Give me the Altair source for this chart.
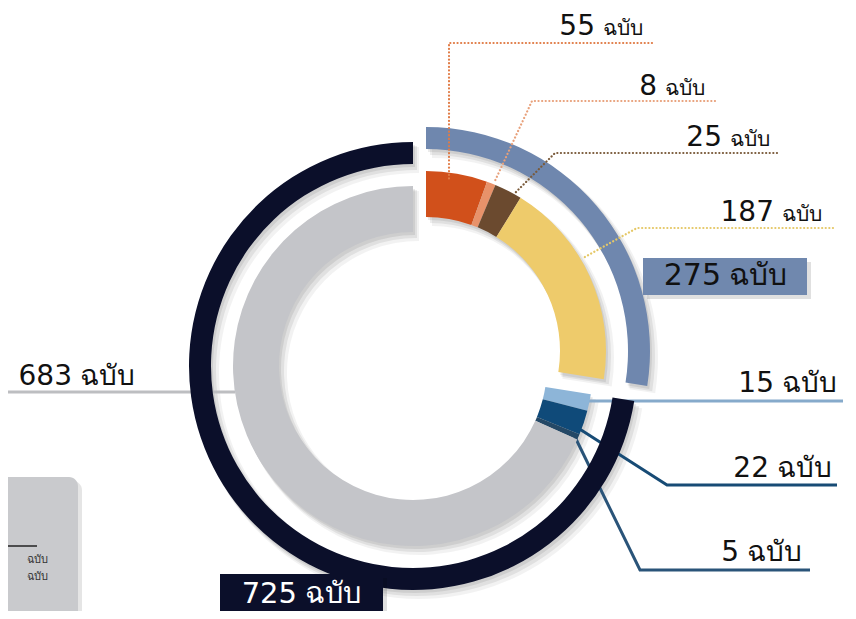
import math
import altair as alt
import pandas as pd

# ---------------- data ----------------
outer_names = ["กลุ่ม 275", "กลุ่ม 725"]
outer_values = [275, 725]
inner_names = ["a55", "b8", "c25", "d187", "e15", "f22", "g5", "h683"]
inner_values = [55, 8, 25, 187, 15, 22, 5, 683]
label_numbers = ["55", "8", "25", "187", "683", "15", "22", "5", "275", "725"]
unit_text = "ฉบับ"

# ---------------- styles ----------------
outer_colors = ["#6F87AE", "#0B0F2A"]
inner_colors = ["#D1501B", "#E8926A", "#6B4A2F", "#EECB6B",
                "#8DB5D8", "#0F4A79", "#244866", "#C4C5C9"]
exploded_outer = [True, False]
exploded_inner = [True, True, True, True, False, False, False, False]

W, H = 840, 603
OFF = 8  # page margin
CX, CY = 413 - OFF, 366 - OFF          # main center
EX, EY = 426 - OFF, 351 - OFF          # exploded group center
R_OUT = (202, 224)
R_IN = (134, 180)

TOTAL = sum(outer_values)
ts = alt.Scale(domain=[0, TOTAL], range=[0, 2 * math.pi])
xs = alt.Scale(domain=[0, W], range=[0, W], nice=False, zero=False)
ys = alt.Scale(domain=[0, H], range=[0, H], nice=False, zero=False)


def ring_df(names, values, colors, exploded):
    df = pd.DataFrame({"name": names, "value": values, "col": colors, "exp": exploded})
    df["end"] = df["value"].cumsum()
    df["start"] = df["end"] - df["value"]
    return df


outer_df = ring_df(outer_names, outer_values, outer_colors, exploded_outer)
inner_df = ring_df(inner_names, inner_values, inner_colors, exploded_inner)


def arc_layer(df, cx, cy, radii, color=None, opacity=1.0, dr=0):
    enc = dict(
        theta=alt.Theta("start:Q", scale=ts, stack=None),
        theta2="end:Q",
        x=alt.value(cx),
        y=alt.value(cy),
    )
    enc["color"] = alt.value(color) if color else alt.Color("col:N", scale=None)
    return alt.Chart(df).mark_arc(
        innerRadius=radii[0] - dr, outerRadius=radii[1] + dr, opacity=opacity
    ).encode(**enc)


layers = []

# soft shadows
for df, radii in [(outer_df, R_OUT), (inner_df, R_IN)]:
    e = df[df["exp"]]
    n = df[~df["exp"]]
    for (dx, dy, dr, op) in [(6, 7, 2, 0.05), (4, 5, 1, 0.07), (2, 3, 0, 0.08)]:
        layers.append(arc_layer(e, EX + dx, EY + dy, radii, "#000000", op, dr))
        layers.append(arc_layer(n, CX + dx, CY + dy, radii, "#000000", op, dr))

# ---------------- leader lines ----------------
lines_under = [
    ("683", "#BDBEC1", [(8, 392), (235, 392)]),
    ("15", "#86AACB", [(587, 401), (843, 401)]),
    ("22", "#174B75", [(578, 428), (667, 485), (837, 485)]),
    ("5", "#2A5479", [(575, 437), (640, 570), (810, 570)]),
]
lines_dotted = [
    ("55", "#E07B45", [(652, 43), (449, 43), (449, 182)]),
    ("8", "#E8A07A", [(715, 101), (532, 101), (494, 183)]),
    ("25", "#7A5A3A", [(777, 153), (555, 153), (514, 194)]),
    ("187", "#E5C867", [(833, 228), (637, 228), (583, 258)]),
]


def line_df(spec):
    rows = []
    for lid, col, pts in spec:
        for i, (x, y) in enumerate(pts):
            rows.append({"id": lid, "c": col, "o": i, "x": x - OFF, "y": y - OFF})
    return pd.DataFrame(rows)


def line_layer(spec, dash=None, width=3):
    kw = dict(strokeWidth=width, strokeCap="round" if dash else "butt")
    if dash:
        kw["strokeDash"] = dash
    return alt.Chart(line_df(spec)).mark_line(**kw).encode(
        x=alt.X("x:Q", scale=xs, axis=None),
        y=alt.Y("y:Q", scale=ys, axis=None),
        color=alt.Color("c:N", scale=None),
        detail="id:N",
        order="o:Q",
    )


layers.append(line_layer(lines_under, width=3))

# rings
layers.append(arc_layer(outer_df[outer_df["exp"]], EX, EY, R_OUT))
layers.append(arc_layer(outer_df[~outer_df["exp"]], CX, CY, R_OUT))
layers.append(arc_layer(inner_df[inner_df["exp"]], EX, EY, R_IN))
layers.append(arc_layer(inner_df[~inner_df["exp"]], CX, CY, R_IN))

layers.append(line_layer(lines_dotted, dash=[0.1, 3.5], width=2.2))

# ---------------- boxes ----------------
boxes = pd.DataFrame([
    {"x": 643 - OFF, "x2": 807 - OFF, "y": 258 - OFF, "y2": 295 - OFF, "c": "#7088AE"},
    {"x": 220 - OFF, "x2": 383 - OFF, "y": 574 - OFF, "y2": 640 - OFF, "c": "#0B0F2A"},
])
box_shadow = boxes.copy()
for k in ["x", "x2"]:
    box_shadow[k] = box_shadow[k] + 4
for k in ["y", "y2"]:
    box_shadow[k] = box_shadow[k] + 4


def rect_layer(df, color=None, opacity=1.0, radius=0):
    enc = dict(
        x=alt.X("x:Q", scale=xs, axis=None), x2="x2:Q",
        y=alt.Y("y:Q", scale=ys, axis=None), y2="y2:Q",
    )
    enc["color"] = alt.value(color) if color else alt.Color("c:N", scale=None)
    return alt.Chart(df).mark_rect(opacity=opacity, cornerRadius=radius).encode(**enc)


layers.append(rect_layer(box_shadow, "#000000", 0.12))
layers.append(rect_layer(boxes))

# partial legend panel at lower left
legend_box = pd.DataFrame([{"x": -20, "x2": 78 - OFF, "y": 477 - OFF, "y2": 640, "c": "#C9CACD"}])
legend_sh = legend_box.copy()
legend_sh["x2"] += 4
legend_sh["y"] += 4
layers.append(rect_layer(legend_sh, "#000000", 0.10, radius=9))
layers.append(rect_layer(legend_box, radius=9))
layers.append(alt.Chart(pd.DataFrame([{"x": -20, "x2": 37 - OFF, "y": 546 - OFF}])).mark_rule(
    color="#222222", strokeWidth=1.5).encode(
    x=alt.X("x:Q", scale=xs, axis=None), x2="x2:Q", y=alt.Y("y:Q", scale=ys, axis=None)))
legend_txt = pd.DataFrame([
    {"x": 48 - OFF, "y": 563 - OFF, "t": unit_text},
    {"x": 48 - OFF, "y": 580 - OFF, "t": unit_text},
])
layers.append(alt.Chart(legend_txt).mark_text(
    align="right", baseline="alphabetic", fontSize=11, color="#333333",
    font="Noto Sans, DejaVu Sans").encode(
    x=alt.X("x:Q", scale=xs, axis=None), y=alt.Y("y:Q", scale=ys, axis=None), text="t:N"))

# ---------------- labels ----------------
# unit left x, baseline y, number size, unit size, colour (page coordinates)
label_layout = [
    (603, 35, 28, 21, "#111111"),
    (665, 95, 28, 21, "#111111"),
    (730, 146, 28, 21, "#111111"),
    (782, 221, 28, 21, "#111111"),
    (80, 385, 28, 28, "#111111"),
    (782, 392, 28, 28, "#111111"),
    (777, 477, 28, 28, "#111111"),
    (747, 561, 28, 28, "#111111"),
    (729, 285, 30, 30, "#111111"),
    (305, 603, 29, 29, "#FFFFFF"),
]
num_rows, unit_rows = [], []
for num, (ux, by, ns, us, col) in zip(label_numbers, label_layout):
    num_rows.append({"x": ux - 8 - OFF, "y": by - OFF, "t": num, "s": ns, "c": col})
    unit_rows.append({"x": ux - OFF, "y": by - OFF, "t": unit_text, "s": us, "c": col})


def text_layer(rows, align, font):
    return alt.Chart(pd.DataFrame(rows)).mark_text(
        align=align, baseline="alphabetic", font=font).encode(
        x=alt.X("x:Q", scale=xs, axis=None),
        y=alt.Y("y:Q", scale=ys, axis=None),
        text="t:N",
        size=alt.Size("s:Q", scale=None),
        color=alt.Color("c:N", scale=None),
    )


layers.append(text_layer(num_rows, "right", "DejaVu Sans"))
layers.append(text_layer(unit_rows, "left", "Noto Sans, DejaVu Sans"))

chart = alt.layer(*layers).properties(
    width=W, height=H, padding=0,
    autosize=alt.AutoSizeParams(type="none"),
    background="#FFFFFF",
).configure_view(stroke=None)

chart.save("out.html", embed_options={"renderer": "svg", "actions": False})
